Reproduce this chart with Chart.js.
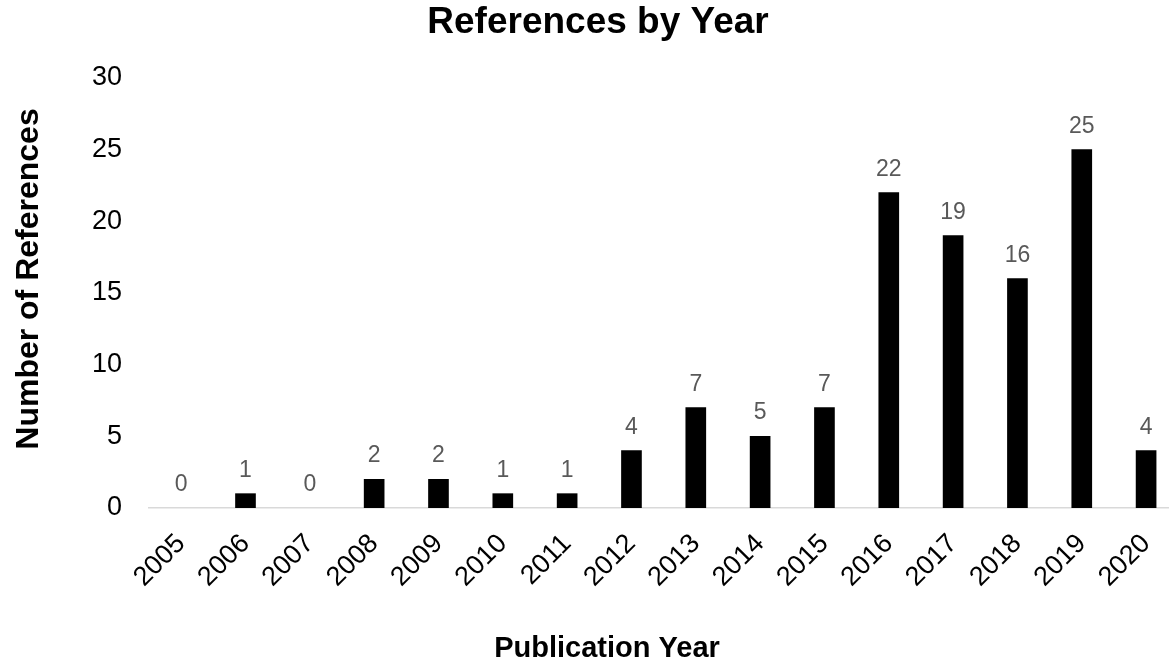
<!DOCTYPE html>
<html>
<head>
<meta charset="utf-8">
<script src="https://cdn.jsdelivr.net/npm/chart.js@4/dist/chart.umd.min.js"></script>
<style>
  html, body { margin: 0; padding: 0; background: #fff; overflow: hidden; }
  #wrap { width: 1169px; height: 667px; }
</style>
</head>
<body>
<div id="wrap"><canvas id="chart"></canvas></div>
<script>
// 年ごとの参考文献数
const years = [2005, 2006, 2007, 2008, 2009, 2010, 2011, 2012, 2013, 2014, 2015, 2016, 2017, 2018, 2019, 2020];
const refCounts = [0, 1, 0, 2, 2, 1, 1, 4, 7, 5, 7, 22, 19, 16, 25, 4];
const yTicks = [0, 5, 10, 15, 20, 25, 30];

const chartTitle = 'References by Year';
const xAxisTitle = 'Publication Year';
const yAxisTitle = 'Number of References';

const FONT = "'Liberation Sans', Arial, sans-serif";

// 棒の上に値を描く
const valueLabels = {
    id: 'valueLabels',
    afterDatasetsDraw(chart) {
        const ctx = chart.ctx;
        const meta = chart.getDatasetMeta(0);
        ctx.save();
        ctx.font = `23px ${FONT}`;
        ctx.fillStyle = '#595959';
        ctx.textAlign = 'center';
        ctx.textBaseline = 'alphabetic';
        meta.data.forEach((bar, i) => {
            ctx.fillText(String(refCounts[i]), bar.x, bar.y - 17);
        });
        ctx.restore();
    }
};

// タイトルと軸タイトル（元の図の位置に合わせて手で配置）
const chartTexts = {
    id: 'chartTexts',
    afterDraw(chart) {
        const ctx = chart.ctx;
        ctx.save();
        ctx.fillStyle = '#000';
        ctx.textAlign = 'center';
        ctx.textBaseline = 'alphabetic';

        ctx.font = `bold 37px ${FONT}`;
        ctx.fillText(chartTitle, 598, 33);

        ctx.font = `bold 29px ${FONT}`;
        ctx.fillText(xAxisTitle, 607, 657);

        ctx.font = `bold 32px ${FONT}`;
        ctx.translate(38, 279);
        ctx.rotate(-Math.PI / 2);
        ctx.fillText(yAxisTitle, 0, 0);
        ctx.restore();
    }
};

new Chart(document.getElementById('chart'), {
    type: 'bar',
    data: {
        datasets: [{
            data: years.map((y, i) => ({ x: y, y: refCounts[i] })),
            // 0件の年は棒を描かない（基線上の細い線を消す）
            backgroundColor: (c) => (c.raw && c.raw.y === 0 ? 'rgba(0,0,0,0)' : '#000000'),
            barThickness: 20
        }]
    },
    options: {
        responsive: true,
        maintainAspectRatio: false,
        animation: false,
        events: [],
        layout: { padding: { left: 0, right: 0, top: 78, bottom: 0 } },
        scales: {
            x: {
                type: 'linear',
                offset: false,
                min: 2004.5,
                max: 2020.356,
                grid: { display: false, drawTicks: false },
                border: { display: true, color: '#d9d9d9', width: 1.5 },
                ticks: {
                    stepSize: 1,
                    includeBounds: false,
                    autoSkip: false,
                    maxRotation: 45,
                    minRotation: 45,
                    padding: 20,
                    color: '#000',
                    font: { family: FONT, size: 27 },
                    callback: (v) => String(v)
                },
                afterFit(scale) {
                    scale.height = 159;
                    scale.paddingLeft = 0;
                    scale.paddingRight = 0;
                }
            },
            y: {
                min: 0,
                max: 30,
                afterBuildTicks(scale) {
                    scale.ticks = yTicks.map(v => ({ value: v }));
                },
                grid: { display: false, drawTicks: false },
                border: { display: false },
                ticks: {
                    padding: 27,
                    color: '#000',
                    font: { family: FONT, size: 27 }
                },
                afterFit(scale) {
                    scale.width = 149;
                }
            }
        },
        plugins: {
            legend: { display: false },
            tooltip: { enabled: false }
        }
    },
    plugins: [valueLabels, chartTexts]
});
</script>
</body>
</html>
